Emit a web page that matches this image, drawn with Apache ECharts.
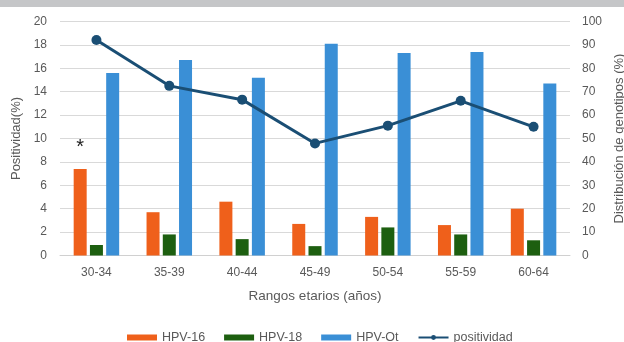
<!DOCTYPE html>
<html>
<head>
<meta charset="utf-8">
<script src="https://cdn.jsdelivr.net/npm/echarts@6/dist/echarts.min.js"></script>
<style>
html,body{margin:0;padding:0;background:#fff;}
#c{width:624px;height:342px;}
</style>
</head>
<body>
<div id="c"></div>
<script>
var categories = ['30-34','35-39','40-44','45-49','50-54','55-59','60-64'];
var hpv16 = [7.4, 3.7, 4.6, 2.7, 3.3, 2.6, 4.0];
var hpv18 = [0.9, 1.8, 1.4, 0.8, 2.4, 1.8, 1.3];
var hpvOt = [15.6, 16.7, 15.2, 18.1, 17.3, 17.4, 14.7];
var positividad = [92.1, 72.5, 66.6, 47.9, 55.5, 66.1, 55.0];
var leftTicks = [0, 20, 2];
var rightTicks = [0, 100, 10];

var FONT = 'Liberation Sans, Arial, sans-serif';
var chart = echarts.init(document.getElementById('c'), null, {renderer:'canvas'});
chart.setOption({
  animation: false,
  backgroundColor: '#fff',
  textStyle: {fontFamily: FONT},
  graphic: [{type:'rect', shape:{x:0,y:0,width:624,height:7}, style:{fill:'#c5c6c8'}}],
  grid: {left: 60, right: 54, top: 21.5, bottom: 86.5, containLabel: false, outerBoundsMode: 'none'},
  legend: {
    top: 326, left: 122,
    itemWidth: 30, itemHeight: 6, itemGap: 19,
    textStyle: {color:'#595959', fontSize: 12.5, fontFamily: FONT},
    data: [
      {name:'HPV-16', icon:'rect'},
      {name:'HPV-18', icon:'rect'},
      {name:'HPV-Ot', icon:'rect'},
      {name:'positividad'}
    ]
  },
  xAxis: {
    type: 'category', data: categories,
    name: 'Rangos etarios (años)', nameLocation: 'middle', nameGap: 34,
    nameTextStyle: {color:'#595959', fontSize: 13.5},
    axisLine: {lineStyle:{color:'#d0d0d0'}},
    axisTick: {show:false},
    axisLabel: {color:'#595959', fontSize: 12, margin: 11}
  },
  yAxis: [{
    type:'value', min: leftTicks[0], max: leftTicks[1], interval: leftTicks[2],
    name: 'Positividad(%)', nameLocation:'middle', nameGap: 31, nameRotate: 90,
    nameTextStyle: {color:'#595959', fontSize: 13},
    axisLabel: {color:'#595959', fontSize: 12, margin: 13},
    splitLine: {lineStyle:{color:'#d9d9d9'}},
    axisLine: {show:false}, axisTick:{show:false}
  },{
    type:'value', min: rightTicks[0], max: rightTicks[1], interval: rightTicks[2],
    name: 'Distribución de genotipos (%)', nameLocation:'middle', nameGap: 37, nameRotate: 90,
    nameTextStyle: {color:'#595959', fontSize: 13},
    axisLabel: {color:'#595959', fontSize: 12, margin: 12},
    splitLine: {show:false},
    axisLine: {show:false}, axisTick:{show:false}
  }],
  series: [
    {name:'HPV-16', type:'bar', yAxisIndex:0, data: hpv16, barWidth: 13, barGap: '25%',
     itemStyle:{color:'#ef601b'},
     markPoint: {symbol:'circle', symbolSize: 0,
       data:[{coord:[0, 9.3], value:'*'}],
       label:{show:true, formatter:'*', color:'#222', fontSize: 20, fontFamily: FONT, offset:[0,1]}}},
    {name:'HPV-18', type:'bar', yAxisIndex:0, data: hpv18, barWidth: 13, barGap: '25%',
     itemStyle:{color:'#1d5f10'}},
    {name:'HPV-Ot', type:'bar', yAxisIndex:0, data: hpvOt, barWidth: 13, barGap: '25%',
     itemStyle:{color:'#3a8fd6'}},
    {name:'positividad', type:'line', yAxisIndex:1, data: positividad,
     symbol:'circle', symbolSize: 10,
     lineStyle:{color:'#1a4e74', width: 3},
     itemStyle:{color:'#1a4e74'}}
  ]
});
</script>
</body>
</html>
